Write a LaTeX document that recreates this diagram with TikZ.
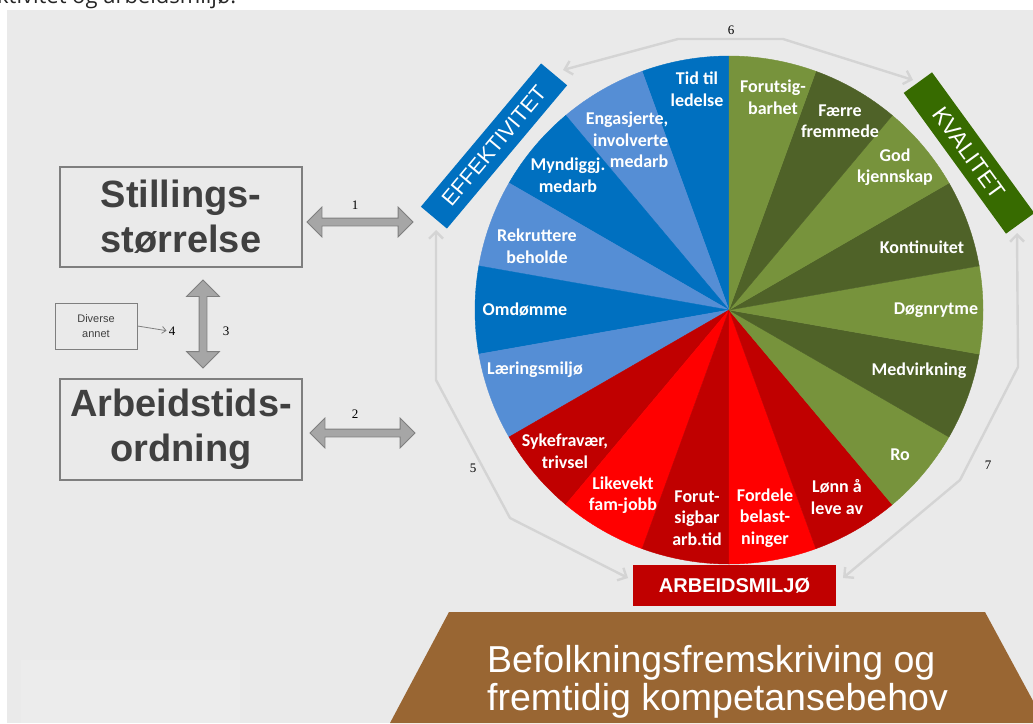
\documentclass[tikz,border=0pt]{standalone}
\usepackage{fontspec}
\setmainfont{Liberation Sans}
\newfontfamily\calibri{Carlito}
\newfontfamily\timesfont{Liberation Serif}
\newfontfamily\captionfont{Open Sans}
\usetikzlibrary{arrows.meta,shapes.arrows}
\definecolor{bggray}{HTML}{EAEAEA}
\definecolor{patchgray}{HTML}{ECECEC}
\definecolor{boxline}{HTML}{7F7F7F}
\definecolor{boxtext}{HTML}{404040}
\definecolor{blockfill}{HTML}{A6A6A6}
\definecolor{ringline}{HTML}{D4D4D4}
\definecolor{bluedark}{HTML}{0070C0}
\definecolor{bluelight}{HTML}{558ED5}
\definecolor{reddark}{HTML}{C00000}
\definecolor{redlight}{HTML}{FF0000}
\definecolor{greendark}{HTML}{4F6228}
\definecolor{greenlight}{HTML}{77933C}
\definecolor{kvalgreen}{HTML}{376B00}
\definecolor{soilbrown}{HTML}{996633}
\begin{document}
\begin{tikzpicture}[x=1pt,y=-1pt,
  box/.style={draw=boxline, line width=1.4pt, fill=bggray, inner sep=0pt},
  bigtext/.style={text=boxtext, font=\bfseries\fontsize{38}{45}\selectfont, align=center},
  seg/.style={text=white, font=\calibri\bfseries\fontsize{18}{21.5}\selectfont, align=center, inner sep=0pt},
  num/.style={font=\timesfont\fontsize{13}{13}\selectfont, inner sep=0pt},
  blockarrow/.style={double arrow, draw=boxline, fill=blockfill, line width=0.8pt,
    inner xsep=0pt, inner ysep=3.5pt, double arrow head extend=11pt, double arrow tip angle=90},
  ring/.style={draw=ringline, line width=2.4pt, line join=round,
    {Straight Barb[length=7pt,width=14pt]}-{Straight Barb[length=7pt,width=14pt]}},
  banner/.style={inner sep=0pt, text=white},
]
\useasboundingbox (0,0) rectangle (1033,723);
\clip (0,0) rectangle (1033,723);
\fill[white] (0,0) rectangle (1033,723);

% caption line above the panel, cut by the panel's top edge
\begin{scope}
  \clip (0,0) rectangle (1033,10);
  \node[anchor=base west, inner sep=0pt, text=black!85,
        font=\captionfont\fontsize{22}{22}\selectfont] (caption) at (-3,3) {ktivitet og arbeidsmiljø.};
\end{scope}

% panel background
\fill[bggray] (7,10) rectangle (1033,723);
\fill[patchgray] (21,660) rectangle (240,723);

% ring arrows around the wheel
\coordinate (r6a) at (563,70);
\coordinate (r6b) at (913,80);
\coordinate (r5a) at (436,230);
\coordinate (r5b) at (628,578);
\coordinate (r7a) at (1017,233);
\coordinate (r7b) at (843,578);
\draw[ring] (r6a) -- (678,39) -- (783,39) -- (r6b);
\draw[ring] (r5a) -- (436,380) -- (510,518) -- (r5b);
\draw[ring] (r7a) -- (1018,367) -- (960,480) -- (r7b);

% the wheel: eighteen 20-degree wedges
\begin{scope}[shift={(729,310)}, x=1pt, y=1pt]
  \foreach \a/\c in {90/bluedark, 110/bluelight, 130/bluedark, 150/bluelight, 170/bluedark, 190/bluelight,
                     210/reddark, 230/redlight, 250/reddark, 270/redlight, 290/reddark,
                     310/greenlight, 330/greendark, 350/greenlight, 10/greendark, 30/greenlight, 50/greendark, 70/greenlight}
    \filldraw[fill=\c, draw=\c, line width=0.4pt, line join=round]
      (0,0) -- (\a:254) arc[start angle=\a, end angle=\a+20, radius=254] -- cycle;
\end{scope}

% wheel labels
\node[seg] (tid)    at (697,89)  {Tid til\\ledelse};
\node[seg, align=right] (eng) at (627,140) {Engasjerte,\\involverte\\medarb};
\node[seg] (myn)    at (568,175) {Myndiggj.\\medarb};
\node[seg] (rek)    at (537,246) {Rekruttere\\beholde};
\node[seg] (omd)    at (525,310) {Omdømme};
\node[seg] (laer)   at (535,370) {Læringsmiljø};
\node[seg] (syk)    at (565,451) {Sykefravær,\\trivsel};
\node[seg] (like)   at (623,495) {Likevekt\\fam-jobb};
\node[seg] (forarb) at (697,518) {Forut-\\sigbar\\arb.tid};
\node[seg] (ford)   at (765,518) {Fordele\\belast-\\ninger};
\node[seg] (lonn)   at (837,497) {Lønn å\\leve av};
\node[seg] (ro)     at (900,455) {Ro};
\node[seg] (med)    at (919,371) {Medvirkning};
\node[seg] (dogn)   at (936,310) {Døgnrytme};
\node[seg] (kont)   at (922,247) {Kontinuitet};
\node[seg] (god)    at (895,167) {God\\kjennskap};
\node[seg] (faer)   at (840,121) {Færre\\fremmede};
\node[seg] (forb)   at (773,97)  {Forutsig-\\barhet};

% banners
\node[banner, fill=bluedark, rotate=50, minimum width=187pt, minimum height=34pt,
      font=\fontsize{21.5}{21.5}\selectfont] (eff) at (494,146) {EFFEKTIVITET};
\node[banner, fill=kvalgreen, rotate=-54, minimum width=174pt, minimum height=35pt,
      font=\fontsize{23}{23}\selectfont] (kval) at (969,153) {KVALITET};
\node[banner, fill=reddark, minimum width=203pt, minimum height=41pt,
      font=\bfseries\fontsize{20}{20}\selectfont] (arbm) at (734.5,585.5) {ARBEIDSMILJØ};

% base trapezoid
\fill[soilbrown] (449,612) -- (985,612) -- (1045,723) -- (390,723) -- cycle;
\node[anchor=base west, inner sep=0pt, text=white, font=\fontsize{37.5}{38}\selectfont] (bef1) at (487,672) {Befolkningsfremskriving og};
\node[anchor=base west, inner sep=0pt, text=white, font=\fontsize{37.5}{38}\selectfont] (bef2) at (487,710) {fremtidig kompetansebehov};

% left-hand boxes
\node[box, bigtext, minimum width=242pt, minimum height=100pt] (stil) at (181,217) {Stillings-\\størrelse};
\node[box, bigtext, minimum width=242pt, minimum height=101pt] (arb) at (181,429.5) {Arbeidstids-\\ordning};
\node[box, line width=1pt, minimum width=82pt, minimum height=46pt, text=boxtext, align=center,
      font=\fontsize{11}{15}\selectfont] (div) at (96,326) {Diverse\\annet};

% block arrows
\node[blockarrow, minimum height=106pt] (ba1) at (360,222) {};
\node[blockarrow, minimum height=105pt] (ba2) at (362.5,433) {};
\node[blockarrow, minimum height=88pt, double arrow head extend=12.5pt, rotate=90] (ba3) at (203,324) {};

% numbers
\node[num] (n1) at (355,205) {1};
\node[num] (n2) at (355,414) {2};
\node[num] (n3) at (226,331) {3};
\node[num] (n4) at (172,331) {4};
\node[num] (n5) at (473,468) {5};
\node[num] (n6) at (731,30)  {6};
\node[num] (n7) at (988,465) {7};

\draw[boxline, line width=0.8pt, -{Straight Barb[length=4pt,width=7pt]}, shorten >=2pt] (div.east) -- (n4.west);
\end{tikzpicture}
\end{document}
